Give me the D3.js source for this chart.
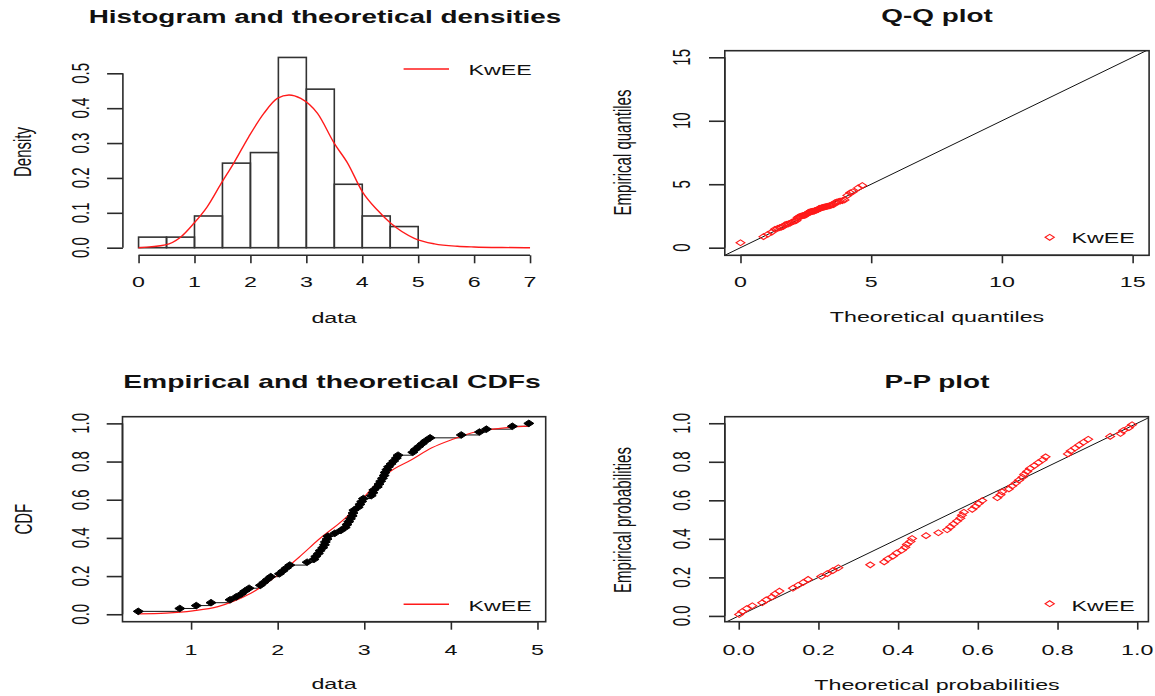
<!DOCTYPE html>
<html>
<head>
<meta charset="utf-8">
<script src="https://cdn.jsdelivr.net/npm/d3@7"></script>
<style>
  body { margin: 0; background: #fff; }
  text { font-family: "Liberation Sans", Arial, sans-serif; fill: #111; }
</style>
</head>
<body>
<svg id="chart" width="1155" height="696"></svg>
<script>
// sorted sample (n = 66)
const sample = [0.39,0.87,1.06,1.23,1.45,1.52,1.58,1.62,1.67,1.80,1.84,1.88,1.92,2.02,2.06,2.10,2.14,2.34,2.42,2.44,2.47,2.49,
  2.52,2.54,2.55,2.57,2.58,2.66,2.73,2.78,2.80,2.82,2.84,2.86,2.87,2.88,2.93,2.95,2.97,2.99,3.08,3.10,3.11,3.15,3.17,3.19,3.21,
  3.23,3.24,3.26,3.28,3.31,3.34,3.37,3.39,3.56,3.59,3.63,3.67,3.71,3.76,4.12,4.33,4.41,4.71,4.90];
// fitted KwEE quantiles for each rank (Q-Q plot)
const theoQuantiles = [0.00,0.88,1.05,1.20,1.32,1.42,1.50,1.57,1.64,1.70,1.76,1.83,1.90,1.97,2.03,2.09,2.14,2.18,2.22,2.26,2.30,2.33,
  2.37,2.40,2.44,2.47,2.50,2.54,2.57,2.61,2.64,2.68,2.71,2.75,2.78,2.82,2.85,2.89,2.92,2.96,3.00,3.03,3.07,3.10,3.14,3.18,3.21,
  3.25,3.29,3.33,3.38,3.42,3.46,3.50,3.56,3.62,3.68,3.74,3.81,3.90,3.98,4.09,4.20,4.30,4.50,4.66];
// fitted KwEE probabilities at each sample value (P-P plot)
const theoProbs = [0.001,0.009,0.020,0.034,0.059,0.069,0.083,0.091,0.102,0.136,0.149,0.162,0.174,0.207,0.222,0.236,0.250,0.330,
  0.365,0.374,0.387,0.396,0.409,0.418,0.422,0.431,0.435,0.470,0.501,0.523,0.531,0.539,0.548,0.556,0.560,0.565,0.586,0.594,0.602,
  0.611,0.649,0.657,0.661,0.678,0.686,0.695,0.703,0.712,0.716,0.724,0.731,0.742,0.752,0.763,0.770,0.826,0.833,0.844,0.854,0.865,
  0.877,0.932,0.958,0.965,0.979,0.987];

// theoretical density curve
const densX = [0, 0.48, 0.75, 0.99, 1.23, 1.48, 1.7, 1.97, 2.24, 2.48, 2.69, 2.9, 3.2, 3.5, 3.74, 4.0, 4.27, 4.51, 4.93, 5.29, 5.7, 6.0, 6.5, 7.0];
const densY = [0, 0.008, 0.03, 0.07, 0.118, 0.185, 0.242, 0.318, 0.385, 0.428, 0.438, 0.428, 0.385, 0.299, 0.242, 0.161, 0.108, 0.07, 0.027, 0.011, 0.004, 0.002, 0.0005, 0];
// theoretical CDF curve
const cdfX = [0.39, 0.71, 1.02, 1.31, 1.5, 1.69, 2.01, 2.25, 2.47, 2.84, 3.0, 3.29, 3.54, 3.78, 4.03, 4.28, 4.57, 4.91];
const cdfY = [0.002, 0.006, 0.018, 0.04, 0.07, 0.11, 0.21, 0.3, 0.39, 0.53, 0.615, 0.745, 0.808, 0.872, 0.918, 0.955, 0.974, 0.987];

const histBreaks = [0, 0.5, 1, 1.5, 2, 2.5, 3, 3.5, 4, 4.5, 5];
const histTicksX = [0, 1, 2, 3, 4, 5, 6, 7];
const histTicksY = [0, 0.1, 0.2, 0.3, 0.4, 0.5];
const qqTicks = [0, 5, 10, 15];
const cdfTicksX = [1, 2, 3, 4, 5];
const probTicks = [0, 0.2, 0.4, 0.6, 0.8, 1.0];
const legendName = "KwEE";

const svg = d3.select("#chart");
const SX = 1.55;          // reference is stretched sideways
const AX = "#2a2a2a";
const RED = "#ff1a1a";
const n = sample.length;

function txt(parent, x, y, s, o = {}) {
  const sx = o.sx || SX;
  return parent.append("text")
    .attr("transform", `translate(${x},${y}) scale(${sx},1)` + (o.rot ? " rotate(-90)" : ""))
    .attr("text-anchor", o.anchor || "middle")
    .style("font-size", (o.size || 15) + "px")
    .style("font-weight", o.bold ? "bold" : "normal")
    .text(s);
}

function xAxis(scale, ticks, y, labelY, fmt) {
  const g = svg.append("g").attr("transform", `translate(0,${y})`)
    .call(d3.axisBottom(scale).tickValues(ticks).tickSize(8).tickSizeOuter(0).tickFormat(""));
  g.select(".domain").attr("d", `M${scale(ticks[0])},0H${scale(ticks[ticks.length - 1])}`)
    .attr("stroke", AX).attr("stroke-width", 1.6);
  g.selectAll(".tick line").attr("stroke", AX).attr("stroke-width", 1.6);
  ticks.forEach(t => txt(svg, scale(t), labelY, fmt(t)));
}

function yAxis(scale, ticks, x, labelX, fmt) {
  const g = svg.append("g").attr("transform", `translate(${x},0)`)
    .call(d3.axisLeft(scale).tickValues(ticks).tickSize(15.8).tickSizeOuter(0).tickFormat(""));
  g.select(".domain").attr("d", `M0,${scale(ticks[0])}V${scale(ticks[ticks.length - 1])}`)
    .attr("stroke", AX).attr("stroke-width", 1.6);
  g.selectAll(".tick line").attr("stroke", AX).attr("stroke-width", 1.6);
  ticks.forEach(t => txt(svg, labelX, scale(t), fmt(t), { rot: true }));
}

function box(x, y) {
  svg.append("rect")
    .attr("x", x.range()[0]).attr("y", y.range()[1])
    .attr("width", x.range()[1] - x.range()[0]).attr("height", y.range()[0] - y.range()[1])
    .attr("fill", "none").attr("stroke", AX).attr("stroke-width", 1.6);
}

function clip(id, x, y) {
  svg.append("clipPath").attr("id", id).append("rect")
    .attr("x", x.range()[0]).attr("y", y.range()[1])
    .attr("width", x.range()[1] - x.range()[0]).attr("height", y.range()[0] - y.range()[1]);
}

function diamond(cx, cy, w, h) {
  return `M${cx - w},${cy}L${cx},${cy - h}L${cx + w},${cy}L${cx},${cy + h}Z`;
}

const f1 = d3.format(".1f");

// ---------- Histogram and theoretical densities ----------
{
  const x = d3.scaleLinear().domain([-0.28, 7.28]).range([122.9, 545.7]);
  const y = d3.scaleLinear().domain([0, 0.5]).range([247.7, 73.3]);
  const bins = d3.bin().domain([0, 5]).thresholds(histBreaks.slice(1, -1))(sample);

  svg.append("g").selectAll("rect").data(bins).join("rect")
    .attr("x", d => x(d.x0)).attr("width", d => x(d.x1) - x(d.x0))
    .attr("y", d => y(d.length / (n * (d.x1 - d.x0))))
    .attr("height", d => y(0) - y(d.length / (n * (d.x1 - d.x0))))
    .attr("fill", "none").attr("stroke", "#333").attr("stroke-width", 1.6);

  svg.append("path")
    .attr("d", d3.line().x((d, i) => x(densX[i])).y(d => y(d)).curve(d3.curveMonotoneX)(densY))
    .attr("fill", "none").attr("stroke", RED).attr("stroke-width", 1.4);

  xAxis(x, histTicksX, 255.3, 286.7, d3.format("d"));
  yAxis(y, histTicksY, 122.9, 89.3, f1);

  txt(svg, 325, 22.7, "Histogram and theoretical densities", { size: 18.6, bold: true, sx: 1.5 });
  txt(svg, 334, 322.7, "data");
  txt(svg, 31.4, 152, "Density", { rot: true });

  svg.append("line").attr("x1", 403.6).attr("x2", 449).attr("y1", 69).attr("y2", 69)
    .attr("stroke", RED).attr("stroke-width", 1.4);
  txt(svg, 468.6, 74.5, legendName, { anchor: "start" });
}

// ---------- Q-Q plot ----------
{
  const x = d3.scaleLinear().domain([-0.6, 15.63]).range([724.8, 1149.1]);
  const y = d3.scaleLinear().domain([-0.6, 15.52]).range([255.3, 50.7]);
  clip("clipQQ", x, y);

  svg.append("line").attr("clip-path", "url(#clipQQ)")
    .attr("x1", x(-1)).attr("y1", y(-1)).attr("x2", x(17)).attr("y2", y(17))
    .attr("stroke", "#111").attr("stroke-width", 1);

  svg.append("g").selectAll("path").data(sample).join("path")
    .attr("d", (d, i) => diamond(x(theoQuantiles[i]), y(d), 4.4, 2.9))
    .attr("fill", "none").attr("stroke", RED).attr("stroke-width", 1.1);

  box(x, y);
  xAxis(x, qqTicks, 255.3, 286.7, d3.format("d"));
  yAxis(y, qqTicks, 724.8, 690, d3.format("d"));

  txt(svg, 937, 21.7, "Q-Q plot", { size: 18.6, bold: true, sx: 1.5 });
  txt(svg, 937, 321.7, "Theoretical quantiles");
  txt(svg, 631.3, 152.5, "Empirical quantiles", { rot: true });

  svg.append("path").attr("d", diamond(1049.7, 237.3, 4.6, 3))
    .attr("fill", "none").attr("stroke", RED).attr("stroke-width", 1.1);
  txt(svg, 1071.4, 243.3, legendName, { anchor: "start" });
}

// ---------- Empirical and theoretical CDFs ----------
{
  const x = d3.scaleLinear().domain([0.208, 5.095]).range([122.5, 545.7]);
  const y = d3.scaleLinear().domain([-0.039, 1.035]).range([621.7, 416.7]);
  const ecdf = sample.map((v, i) => [v, (i + 1) / n]);

  const steps = ecdf.slice(0, -1).map((d, i) => `M${x(d[0])},${y(d[1])}H${x(ecdf[i + 1][0])}`).join("");
  svg.append("path").attr("d", steps).attr("fill", "none").attr("stroke", "#111").attr("stroke-width", 1);

  svg.append("path")
    .attr("d", d3.line().x((d, i) => x(cdfX[i])).y(d => y(d)).curve(d3.curveMonotoneX)(cdfY))
    .attr("fill", "none").attr("stroke", RED).attr("stroke-width", 1.2);

  svg.append("g").selectAll("path").data(ecdf).join("path")
    .attr("d", d => diamond(x(d[0]), y(d[1]), 5, 3.3))
    .attr("fill", "#000").attr("stroke", "#000").attr("stroke-width", 1);

  box(x, y);
  xAxis(x, cdfTicksX, 621.7, 655, d3.format("d"));
  yAxis(y, probTicks, 122.5, 89.3, f1);

  txt(svg, 332, 388.3, "Empirical and theoretical CDFs", { size: 18.6, bold: true, sx: 1.52 });
  txt(svg, 334, 688.5, "data");
  txt(svg, 32, 519.2, "CDF", { rot: true });

  svg.append("line").attr("x1", 403.6).attr("x2", 449).attr("y1", 604.3).attr("y2", 604.3)
    .attr("stroke", RED).attr("stroke-width", 1.4);
  txt(svg, 468.6, 610.7, legendName, { anchor: "start" });
}

// ---------- P-P plot ----------
{
  const x = d3.scaleLinear().domain([-0.035, 1.028]).range([724.8, 1148.4]);
  const y = d3.scaleLinear().domain([-0.03, 1.034]).range([621.7, 416.7]);
  clip("clipPP", x, y);

  svg.append("line").attr("clip-path", "url(#clipPP)")
    .attr("x1", x(-0.1)).attr("y1", y(-0.1)).attr("x2", x(1.1)).attr("y2", y(1.1))
    .attr("stroke", "#111").attr("stroke-width", 1);

  svg.append("g").selectAll("path").data(theoProbs).join("path")
    .attr("d", (d, i) => diamond(x(d), y((i + 0.5) / n), 4.4, 2.9))
    .attr("fill", "none").attr("stroke", RED).attr("stroke-width", 1.1);

  box(x, y);
  xAxis(x, probTicks, 621.7, 655, f1);
  yAxis(y, probTicks, 724.8, 690, f1);

  txt(svg, 937, 388.3, "P-P plot", { size: 18.6, bold: true, sx: 1.5 });
  txt(svg, 937, 690, "Theoretical probabilities");
  txt(svg, 631.3, 520, "Empirical probabilities", { rot: true });

  svg.append("path").attr("d", diamond(1049.7, 603.7, 4.6, 3))
    .attr("fill", "none").attr("stroke", RED).attr("stroke-width", 1.1);
  txt(svg, 1071.4, 610.7, legendName, { anchor: "start" });
}
</script>
</body>
</html>
